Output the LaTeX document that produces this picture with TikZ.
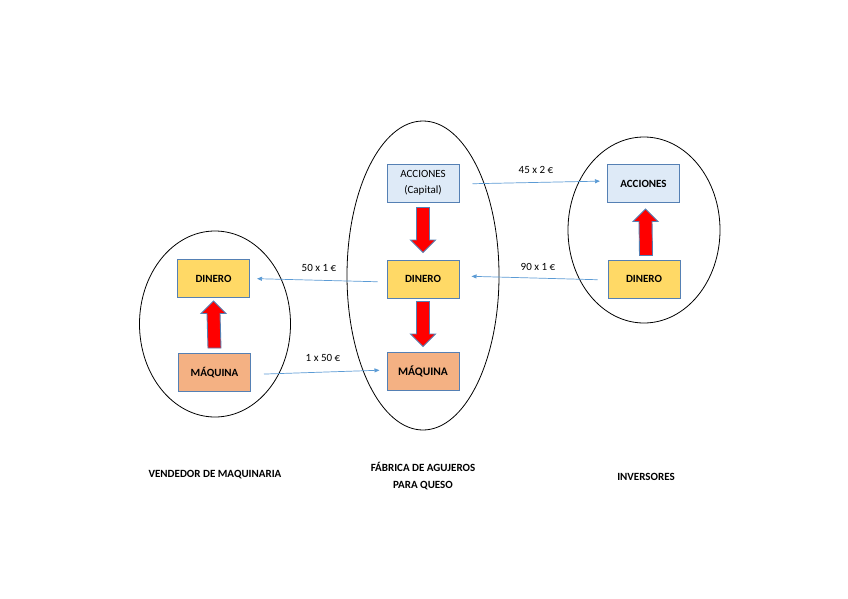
\documentclass[tikz,border=0pt]{standalone}
\usepackage{fontspec}
\setmainfont{Carlito}
\usetikzlibrary{calc,arrows.meta}
\definecolor{boxline}{HTML}{5580B4}
\definecolor{thinblue}{HTML}{5B9BD5}
\definecolor{lblue}{HTML}{DEEAF7}
\definecolor{lyellow}{HTML}{FFD966}
\definecolor{lorange}{HTML}{F4B183}
\newcommand{\blockarrow}[3]{%
  \fill[red,draw=boxline,line width=0.9pt,line join=miter]
    ($(#1)+(-6.5pt,0)$) -- ($(#2)+(-6.5pt,#3)$) -- ($(#2)+(-12.5pt,#3)$) -- (#2)
    -- ($(#2)+(12.5pt,#3)$) -- ($(#2)+(6.5pt,#3)$) -- ($(#1)+(6.5pt,0)$) -- cycle;}
\tikzset{
  bx/.style={draw=boxline, line width=1pt, minimum width=72pt, minimum height=38pt,
    inner sep=0pt, align=center, font=\fontsize{11}{16}\selectfont},
  bxb/.style={bx, font=\bfseries\fontsize{11}{16}\selectfont},
  grp/.style={draw=black, line width=0.8pt},
  flow/.style={draw=thinblue, line width=0.7pt, -{Triangle[length=5pt,width=4pt]}},
  lbl/.style={font=\fontsize{11}{13}\selectfont, inner sep=0pt},
  captxt/.style={font=\bfseries\fontsize{11}{17}\selectfont, align=center, inner sep=0pt}
}
\begin{document}
\begin{tikzpicture}[x=1pt,y=-1pt]
\fill[white] (0,0) rectangle (848,599);
\path[use as bounding box] (0,0) rectangle (848,599);
% group ellipses
\draw[grp] (215,324) ellipse [x radius=75.5, y radius=93];
\draw[grp] (423,275.5) ellipse [x radius=76, y radius=154.5];
\draw[grp] (644,230) ellipse [x radius=76, y radius=93];
% boxes
\node[bx, fill=lblue] (accM) at (423,183) {ACCIONES\\(Capital)};
\node[bxb, fill=lyellow] (dinM) at (423,279) {DINERO};
\node[bxb, fill=lorange, font=\bfseries\fontsize{11.5}{16}\selectfont] (maqM) at (423,371) {MÁQUINA};
\node[bxb, fill=lyellow] (dinL) at (213.5,278.5) {DINERO};
\node[bxb, fill=lorange] (maqL) at (214.5,372.5) {MÁQUINA};
\node[bxb, fill=lblue] (accR) at (643.5,183.5) {ACCIONES};
\node[bxb, fill=lyellow] (dinR) at (644,279) {DINERO};
% block arrows
\blockarrow{[yshift=-5pt]accM.south}{[yshift=7pt]dinM.north}{12.5pt}
\blockarrow{[yshift=-3pt]dinM.south}{[yshift=5pt]maqM.north}{12.5pt}
\blockarrow{[yshift=5pt]maqL.north}{[yshift=-3pt]dinL.south}{-12.5pt}
\blockarrow{[yshift=4pt,xshift=2pt]dinR.north}{[yshift=-6pt,xshift=2pt]accR.south}{-12.5pt}
% thin flows
\draw[flow, shorten <=13pt, shorten >=7pt] ([yshift=-1pt]accM.east) -- ([yshift=2.5pt]accR.west);
\draw[flow, shorten <=10pt, shorten >=12pt] ([yshift=-1pt]dinR.west) -- ([yshift=3pt]dinM.east);
\draw[flow, shorten <=9pt, shorten >=7pt] ([yshift=-3pt]dinM.west) -- (dinL.east);
\draw[flow, shorten <=13pt, shorten >=7pt] ([yshift=-2pt]maqL.east) -- ([yshift=1pt]maqM.west);
% flow labels
\node[lbl] (l1) at (536,170) {45 x 2 €};
\node[lbl] (l2) at (538,267) {90 x 1 €};
\node[lbl] (l3) at (319,268) {50 x 1 €};
\node[lbl] (l4) at (323,358) {1 x 50 €};
% captions
\node[captxt] (c1) at (215,475) {VENDEDOR DE MAQUINARIA};
\node[captxt] (c2) at (423,476.5) {FÁBRICA DE AGUJEROS\\PARA QUESO};
\node[captxt] (c3) at (646,477) {INVERSORES};
\end{tikzpicture}
\end{document}
